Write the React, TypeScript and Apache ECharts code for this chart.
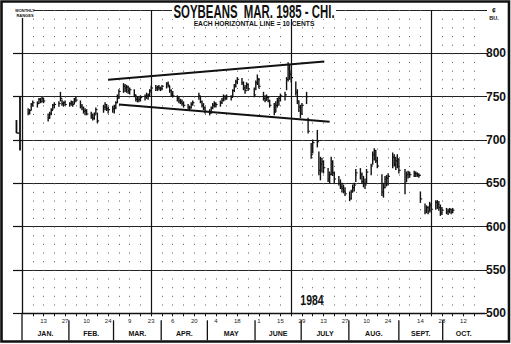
import React, { useEffect, useRef } from 'react';
import * as echarts from 'echarts';

// x axis value = days since Fri Dec 30, 1983 (so every Friday is a multiple of 7)
const weekLabelDays = [14, 28, 42, 56, 70, 84, 98, 112, 126, 140, 154, 168, 182, 196, 210, 224, 238, 259, 273, 287];
const weekLabels = ['13', '27', '10', '24', '9', '23', '6', '20', '4', '18', '1', '15', '29', '13', '27', '10', '24', '14', '28', '12'];
const monthNames = ['JAN.', 'FEB.', 'MAR.', 'APR.', 'MAY', 'JUNE', 'JULY', 'AUG.', 'SEPT.', 'OCT.'];
const monthBounds = [0, 30.5, 59.5, 90.5, 120.5, 151.5, 181.5, 212.5, 245, 273.5, 301];
const quarterLines = [84, 175, 266];
const priceLabels = [500, 550, 600, 650, 700, 750, 800];

// daily bars, Mon..Fri per week, starting week of Mon Jan 2, 1984 (null = no trading)
const firstMonday = 3;
const highs = [
  null, 736, 735, 742, 745,
  744, 748, 748, 749, 748,
  730, 732, 736, 741, 743,
  744, 755, 746, 744, 745,
  743, 745, 744, 748, 750,
  745, 741, 738, 736, 735,
  732, 730, 731, 737, 731,
  null, 740, 743, 741, 738,
  739, 740, 744, 752, 758,
  765, 764, 763, 762, 760,
  758, 752, 750, 749, 751,
  752, 754, 753, 758, 762,
  763, 762, 763, 761, 763,
  766, 767, 762, 758, 756,
  751, 750, 747, 746, 744,
  741, 739, 743, 745, null,
  754, 750, 745, 742, 738,
  735, 738, 742, 744, 743,
  745, 748, 752, 751, 752,
  751, 758, 764, 769, 772,
  771, 767, 763, 766, 765,
  null, 760, 768, 775, 771,
  755, 751, 752, 750, 746,
  742, 744, 748, 750, 753,
  755, 772, 789, 787, 780,
  767, 758, 745, 740, 742,
  755, 725, null, 696, 700,
  711, 686, 680, 679, 676,
  667, 663, 680, 676, 663,
  658, 654, 650, 648, 645,
  640, 642, 648, 650, 666,
  667, 662, 658, 655, 666,
  672, 686, 690, 688, 680,
  660, 650, 658, 659, 661,
  685, 683, 680, 683, 678,
  null, 666, 663, 664, 663,
  664, 663, 662, 661, 640,
  626, 624, 623, 628, 627,
  630, 630, 629, 625, 622,
  621, 620, 621, 620, 621,
];
const lows = [
  null, 729, 730, 735, 739,
  738, 742, 743, 744, 743,
  722, 725, 729, 735, 737,
  739, 745, 740, 739, 740,
  739, 740, 739, 742, 744,
  737, 735, 731, 729, 729,
  725, 723, 724, 730, 720,
  null, 732, 735, 734, 731,
  732, 731, 736, 743, 748,
  755, 756, 755, 754, 753,
  750, 745, 744, 744, 745,
  746, 748, 747, 751, 755,
  757, 757, 758, 757, 758,
  760, 761, 755, 751, 750,
  745, 743, 742, 740, 738,
  736, 735, 737, 740, null,
  747, 743, 738, 735, 731,
  729, 731, 736, 738, 738,
  739, 742, 745, 746, 747,
  746, 750, 756, 761, 765,
  764, 758, 754, 759, 757,
  null, 750, 758, 764, 760,
  746, 744, 746, 744, 738,
  729, 733, 738, 740, 745,
  746, 758, 768, 770, 767,
  752, 742, 733, 726, 730,
  742, 708, null, 679, 685,
  692, 660, 654, 663, 662,
  652, 650, 660, 659, 650,
  648, 644, 640, 639, 636,
  630, 632, 640, 641, 652,
  655, 650, 646, 644, 650,
  660, 672, 677, 674, 668,
  636, 634, 645, 647, 648,
  668, 670, 666, 668, 662,
  null, 638, 652, 656, 657,
  658, 658, 658, 657, 628,
  615, 616, 615, 618, 617,
  620, 621, 619, 613, 614,
  615, 614, 616, 615, 616,
];
const closes = [
  null, 731, 734, 741, 743,
  742, 747, 744, 748, 745,
  725, 730, 734, 740, 741,
  742, 748, 742, 743, 741,
  742, 744, 741, 747, 746,
  739, 737, 733, 734, 730,
  728, 725, 729, 735, 722,
  null, 738, 741, 736, 735,
  736, 738, 743, 750, 756,
  762, 760, 761, 757, 758,
  752, 747, 746, 747, 749,
  750, 751, 752, 757, 760,
  760, 761, 760, 759, 762,
  765, 763, 757, 753, 751,
  748, 745, 744, 742, 740,
  738, 737, 741, 743, null,
  751, 744, 740, 737, 733,
  731, 737, 740, 742, 741,
  743, 746, 750, 748, 750,
  749, 757, 762, 767, 770,
  766, 760, 757, 764, 759,
  null, 752, 766, 770, 762,
  748, 746, 749, 745, 740,
  732, 740, 745, 748, 751,
  752, 770, 782, 776, 772,
  755, 745, 738, 730, 740,
  750, 710, null, 683, 697,
  698, 665, 672, 675, 668,
  655, 660, 675, 662, 655,
  650, 646, 644, 641, 638,
  632, 640, 645, 648, 662,
  660, 652, 650, 648, 663,
  670, 683, 688, 676, 670,
  640, 645, 655, 656, 658,
  680, 672, 676, 678, 665,
  null, 650, 660, 662, 660,
  662, 661, 660, 659, 632,
  618, 622, 617, 625, 620,
  628, 626, 622, 616, 619,
  617, 618, 620, 617, 619,
];

// monthly ranges drawn left of the axis
const monthlyDays = [-3.6, -1.3];
const monthlyHighs = [723, 750];
const monthlyLows = [708, 688];
const monthlyCloses = [708, null];

// hand-drawn trend lines
const upperTrend = [[56, 769.5], [196.5, 790.5]];
const lowerTrend = [[63, 741], [200, 721]];

const FONT = '"Liberation Sans", Arial, sans-serif';

export default function App() {
  const ref = useRef<HTMLDivElement>(null);
  useEffect(() => {
    const chart = echarts.init(ref.current!, null, { renderer: 'svg' });

    const bars: number[][] = [];
    for (let i = 0; i < highs.length; i++) {
      if (highs[i] == null) continue;
      const v = firstMonday + Math.floor(i / 5) * 7 + (i % 5);
      bars.push([v, highs[i] as number, lows[i] as number, closes[i] as number]);
    }
    const monthly = monthlyDays.map((d, i) => [d, monthlyHighs[i], monthlyLows[i], monthlyCloses[i] == null ? NaN : (monthlyCloses[i] as number)]);
    const months = monthNames.map((n, i) => [monthBounds[i], monthBounds[i + 1], i]);

    const option: any = {
      animation: false,
      backgroundColor: '#fff',
      grid: { left: 22, top: 10, width: 463, height: 303.3, containLabel: false, outerBoundsMode: 'none' },
      xAxis: {
        type: 'value',
        min: 0,
        max: 301,
        interval: 7,
        position: 'bottom',
        axisLine: { show: true, onZero: false, lineStyle: { color: '#111', width: 1.3 } },
        axisTick: { show: true, length: 3, lineStyle: { color: '#111', width: 1 } },
        axisLabel: {
          show: true,
          margin: 5,
          fontSize: 6,
          fontFamily: FONT,
          color: '#222',
          showMinLabel: false,
          showMaxLabel: false,
          formatter: (val: number) => {
            const i = weekLabelDays.indexOf(Math.round(val));
            return i >= 0 ? weekLabels[i] : '';
          },
        },
        splitLine: {
          show: true,
          showMinLine: false,
          showMaxLine: false,
          lineStyle: { color: '#666', width: 1, type: [1.1, 7.56] },
        },
      },
      yAxis: [
        {
          type: 'value',
          min: 500,
          max: 850,
          interval: 50,
          position: 'left',
          axisLine: { show: true, lineStyle: { color: '#111', width: 1.3 } },
          axisTick: { show: true, length: 9, lineStyle: { color: '#111', width: 1.2 } },
          axisLabel: { show: false },
          splitLine: { show: true, lineStyle: { color: '#222', width: 1.2, type: 'solid' } },
        },
        {
          type: 'value',
          min: 500,
          max: 850,
          interval: 50,
          position: 'right',
          axisLine: { show: false },
          axisTick: { show: true, length: 2, lineStyle: { color: '#111', width: 1.2 } },
          axisLabel: {
            show: true,
            margin: 1,
            fontSize: 12,
            fontWeight: 'bold',
            fontFamily: FONT,
            color: '#111',
            formatter: (val: number) => (priceLabels.indexOf(val) >= 0 ? String(val) : ''),
          },
          splitLine: { show: false },
        },
      ],
      series: [
        {
          type: 'custom',
          name: 'daily',
          coordinateSystem: 'cartesian2d',
          xAxisIndex: 0,
          yAxisIndex: 0,
          clip: false,
          z: 3,
          encode: { x: 0, y: [1, 2] },
          data: bars,
          renderItem: (params: any, api: any) => {
            const v = api.value(0);
            const top = api.coord([v, api.value(1)]);
            const bot = api.coord([v, api.value(2)]);
            const c = api.coord([v, api.value(3)]);
            return {
              type: 'group',
              children: [
                { type: 'line', shape: { x1: top[0], y1: top[1] - 0.5, x2: bot[0], y2: bot[1] + 0.5 }, style: { stroke: '#111', lineWidth: 1.4 } },
                { type: 'line', shape: { x1: c[0], y1: c[1], x2: c[0] + 1.8, y2: c[1] }, style: { stroke: '#111', lineWidth: 1.1 } },
              ],
            };
          },
        },
        {
          type: 'custom',
          name: 'monthly',
          coordinateSystem: 'cartesian2d',
          clip: false,
          z: 3,
          encode: { x: 0, y: [1, 2] },
          data: monthly,
          renderItem: (params: any, api: any) => {
            const v = api.value(0);
            const top = api.coord([v, api.value(1)]);
            const bot = api.coord([v, api.value(2)]);
            const children: any[] = [
              { type: 'line', shape: { x1: top[0], y1: top[1], x2: bot[0], y2: bot[1] }, style: { stroke: '#111', lineWidth: 1.8 } },
            ];
            const cl = api.value(3);
            if (!isNaN(cl)) {
              const c = api.coord([v, cl]);
              children.push({ type: 'line', shape: { x1: c[0], y1: c[1], x2: c[0] + 3.2, y2: c[1] }, style: { stroke: '#111', lineWidth: 1.4 } });
            }
            return { type: 'group', children };
          },
        },
        {
          type: 'custom',
          name: 'months',
          coordinateSystem: 'cartesian2d',
          clip: false,
          z: 3,
          silent: true,
          encode: { x: [0, 1] },
          data: months,
          renderItem: (params: any, api: any) => {
            const a = api.coord([api.value(0), 500]);
            const b = api.coord([api.value(1), 500]);
            const idx = api.value(2);
            return {
              type: 'group',
              children: [
                {
                  type: 'line',
                  shape: { x1: a[0], y1: idx === 0 ? a[1] : a[1] + 7, x2: a[0], y2: a[1] + 27 },
                  style: { stroke: '#111', lineWidth: 1.3 },
                },
                {
                  type: 'text',
                  style: {
                    text: monthNames[idx],
                    x: (a[0] + b[0]) / 2,
                    y: a[1] + 20,
                    align: 'center',
                    verticalAlign: 'middle',
                    fontSize: 7,
                    fontWeight: 'bold',
                    fontFamily: FONT,
                    fill: '#111',
                  },
                },
              ],
            };
          },
        },
        {
          type: 'line',
          name: 'upper',
          data: upperTrend,
          symbol: 'none',
          z: 4,
          lineStyle: { color: '#111', width: 2 },
          markLine: {
            silent: true,
            symbol: ['none', 'none'],
            label: { show: false },
            lineStyle: { color: '#111', width: 1.2, type: 'solid' },
            data: quarterLines.map((q) => ({ xAxis: q })),
          },
        },
        {
          type: 'line',
          name: 'lower',
          data: lowerTrend,
          symbol: 'none',
          z: 4,
          lineStyle: { color: '#111', width: 2 },
        },
      ],
      graphic: [
        { type: 'rect', z: 100, shape: { x: 1.5, y: 1.5, width: 507.5, height: 340 }, style: { fill: 'none', stroke: '#111', lineWidth: 2.6 } },
        { type: 'rect', z: 100, shape: { x: 172, y: 3, width: 164, height: 16 }, style: { fill: '#fff' } },
        {
          type: 'text', z: 101, x: 254, y: 11, scaleX: 0.635,
          style: { text: 'SOYBEANS  MAR. 1985 - CHI.', align: 'center', verticalAlign: 'middle', fontSize: 18, fontWeight: 'bold', fontFamily: FONT, fill: '#111' },
        },
        {
          type: 'text', z: 101, x: 254, y: 23.5,
          style: { text: 'EACH HORIZONTAL LINE = 10 CENTS', align: 'center', verticalAlign: 'middle', fontSize: 6.7, fontWeight: 'bold', fontFamily: FONT, fill: '#111' },
        },
        { type: 'rect', z: 100, shape: { x: 12, y: 6, width: 22, height: 12 }, style: { fill: '#fff' } },
        {
          type: 'text', z: 101, x: 25, y: 10,
          style: { text: 'MONTHLY', align: 'center', verticalAlign: 'middle', fontSize: 4, fontWeight: 'bold', fontFamily: FONT, fill: '#111' },
        },
        {
          type: 'text', z: 101, x: 25, y: 15,
          style: { text: 'RANGES', align: 'center', verticalAlign: 'middle', fontSize: 4, fontWeight: 'bold', fontFamily: FONT, fill: '#111' },
        },
        {
          type: 'text', z: 101, x: 494, y: 10,
          style: { text: '¢', align: 'center', verticalAlign: 'middle', fontSize: 7, fontWeight: 'bold', fontStyle: 'italic', fontFamily: FONT, fill: '#111' },
        },
        {
          type: 'text', z: 101, x: 494, y: 18,
          style: { text: 'BU.', align: 'center', verticalAlign: 'middle', fontSize: 5.5, fontWeight: 'bold', fontFamily: FONT, fill: '#111' },
        },
        {
          type: 'text', z: 101, x: 312, y: 300, scaleX: 0.75,
          style: { text: '1984', align: 'center', verticalAlign: 'middle', fontSize: 14, fontWeight: 'bold', fontFamily: FONT, fill: '#111' },
        },
      ],
    };
    chart.setOption(option);
    return () => chart.dispose();
  }, []);
  return <div ref={ref} style={{ position: 'fixed', left: 0, top: 0, width: 511, height: 344, background: '#fff' }} />;
}
